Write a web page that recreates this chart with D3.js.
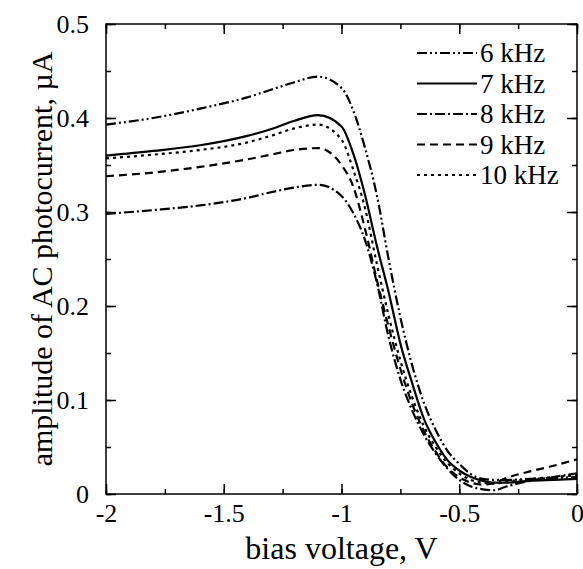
<!DOCTYPE html>
<html>
<head>
<meta charset="utf-8">
<script src="https://cdn.jsdelivr.net/npm/d3@7"></script>
</head>
<body style="margin:0">
<script>
"use strict"
/* dati */
const tensioni = [-2, -1.8, -1.6, -1.4, -1.3, -1.2, -1.1, -1.0, -0.95, -0.9, -0.85, -0.8, -0.75, -0.7,
    -0.65, -0.6, -0.55, -0.5, -0.45, -0.4, -0.35, -0.3, -0.2, -0.1, 0];
const serie6kHz = [0.393, 0.400, 0.410, 0.422, 0.430, 0.438, 0.444, 0.432, 0.408, 0.368, 0.318, 0.250, 0.188, 0.137,
    0.097, 0.068, 0.046, 0.032, 0.021, 0.016, 0.015, 0.015, 0.016, 0.017, 0.018];
const serie7kHz = [0.360, 0.365, 0.371, 0.381, 0.388, 0.397, 0.403, 0.391, 0.362, 0.318, 0.264, 0.215, 0.160, 0.118,
    0.080, 0.055, 0.036, 0.025, 0.018, 0.014, 0.012, 0.012, 0.014, 0.015, 0.016];
const serie8kHz = [0.298, 0.302, 0.307, 0.315, 0.321, 0.326, 0.329, 0.317, 0.299, 0.270, 0.225, 0.167, 0.122, 0.089,
    0.063, 0.043, 0.027, 0.015, 0.008, 0.005, 0.004, 0.008, 0.014, 0.018, 0.022];
const serie9kHz = [0.338, 0.342, 0.348, 0.356, 0.361, 0.366, 0.368, 0.350, 0.327, 0.282, 0.228, 0.178, 0.133, 0.096,
    0.067, 0.045, 0.028, 0.018, 0.012, 0.010, 0.012, 0.017, 0.024, 0.030, 0.037];
const serie10kHz = [0.357, 0.361, 0.366, 0.374, 0.381, 0.389, 0.393, 0.377, 0.345, 0.304, 0.245, 0.190, 0.142, 0.103,
    0.072, 0.050, 0.033, 0.022, 0.015, 0.012, 0.011, 0.013, 0.016, 0.018, 0.020];
const nomiSerie = ["6 kHz", "7 kHz", "8 kHz", "9 kHz", "10 kHz"];
const tickX = [-2, -1.5, -1, -0.5, 0];
const etichetteX = ["-2", "-1.5", "-1", "-0.5", "0"];
const tickY = [0, 0.1, 0.2, 0.3, 0.4, 0.5];
const etichetteY = ["0", "0.1", "0.2", "0.3", "0.4", "0.5"];

/* misure del grafico */
const larghezza = 583, altezza = 569;
const area = { sinistra: 106, destra: 577, alto: 24, basso: 494 };
const tratteggi = ["10,3,2,3,2,3", null, "10,3,2,3", "8,5", "3,4"];
const valori = [serie6kHz, serie7kHz, serie8kHz, serie9kHz, serie10kHz];

const svg = d3.select("body").append("svg")
    .attr("width", larghezza).attr("height", altezza);

const scalaX = d3.scaleLinear().domain([-2, 0]).range([area.sinistra, area.destra]);
const scalaY = d3.scaleLinear().domain([0, 0.5]).range([area.basso, area.alto]);

/* curve */
const linea = d3.line()
    .x(function (d) { return scalaX(d[0]) })
    .y(function (d) { return scalaY(d[1]) })
    .curve(d3.curveMonotoneX);

valori.forEach(function (serie, i) {
    svg.append("path")
        .datum(tensioni.map(function (v, j) { return [v, serie[j]] }))
        .attr("fill", "none")
        .attr("stroke", "#000")
        .attr("stroke-width", 2.2)
        .attr("stroke-dasharray", tratteggi[i])
        .attr("d", linea);
});

/* assi con tacche verso l'interno su tutti i lati */
const minoriX = d3.range(-2, 0.001, 0.25);
const minoriY = d3.range(0, 0.501, 0.05);
function formatoX(d) { return etichetteX[tickX.indexOf(d)] }
function formatoY(d) { return etichetteY[tickY.findIndex(function (t) { return Math.abs(t - d) < 1e-9 })] }

function aggiungiAsse(asse, trasla) {
    const g = svg.append("g").attr("transform", trasla).call(asse);
    g.select(".domain").remove();
    g.selectAll("line").attr("stroke", "#000").attr("stroke-width", 1.5);
    g.selectAll("text").attr("fill", "#000").attr("font-size", 26);
    return g;
}
const inBasso = `translate(0,${area.basso})`, inAlto = `translate(0,${area.alto})`;
const aSinistra = `translate(${area.sinistra},0)`, aDestra = `translate(${area.destra},0)`;

aggiungiAsse(d3.axisBottom(scalaX).tickValues(minoriX).tickSize(-5).tickFormat(""), inBasso);
aggiungiAsse(d3.axisBottom(scalaX).tickValues(tickX).tickSize(-10).tickPadding(10).tickFormat(formatoX), inBasso);
aggiungiAsse(d3.axisTop(scalaX).tickValues(minoriX).tickSize(-5).tickFormat(""), inAlto);
aggiungiAsse(d3.axisTop(scalaX).tickValues(tickX).tickSize(-10).tickFormat(""), inAlto);
aggiungiAsse(d3.axisLeft(scalaY).tickValues(minoriY).tickSize(-5).tickFormat(""), aSinistra);
aggiungiAsse(d3.axisLeft(scalaY).tickValues(tickY).tickSize(-10).tickPadding(17).tickFormat(formatoY), aSinistra);
aggiungiAsse(d3.axisRight(scalaY).tickValues(minoriY).tickSize(-5).tickFormat(""), aDestra);
aggiungiAsse(d3.axisRight(scalaY).tickValues(tickY).tickSize(-10).tickFormat(""), aDestra);

/* cornice */
svg.append("rect")
    .attr("x", area.sinistra).attr("y", area.alto)
    .attr("width", area.destra - area.sinistra).attr("height", area.basso - area.alto)
    .attr("fill", "none").attr("stroke", "#000").attr("stroke-width", 1.5);

/* titoli degli assi */
svg.append("text")
    .attr("x", (area.sinistra + area.destra) / 2).attr("y", 559)
    .attr("text-anchor", "middle").attr("font-size", 32)
    .text("bias voltage, V");
svg.append("text")
    .attr("transform", `translate(52,${(area.alto + area.basso) / 2}) rotate(-90)`)
    .attr("text-anchor", "middle").attr("font-size", 30)
    .text("amplitude of AC photocurrent, \u00b5A");

/* legenda */
nomiSerie.forEach(function (nome, i) {
    const y = 53 + i * 30.5;
    svg.append("line")
        .attr("x1", 417).attr("x2", 477).attr("y1", y).attr("y2", y)
        .attr("stroke", "#000").attr("stroke-width", 2.2)
        .attr("stroke-dasharray", tratteggi[i]);
    svg.append("text")
        .attr("x", 480).attr("y", y + 9)
        .attr("font-size", 27)
        .text(nome);
});

/* carattere con grazie su ogni testo */
svg.selectAll("text").attr("font-family", "Liberation Serif");
</script>
</body>
</html>
